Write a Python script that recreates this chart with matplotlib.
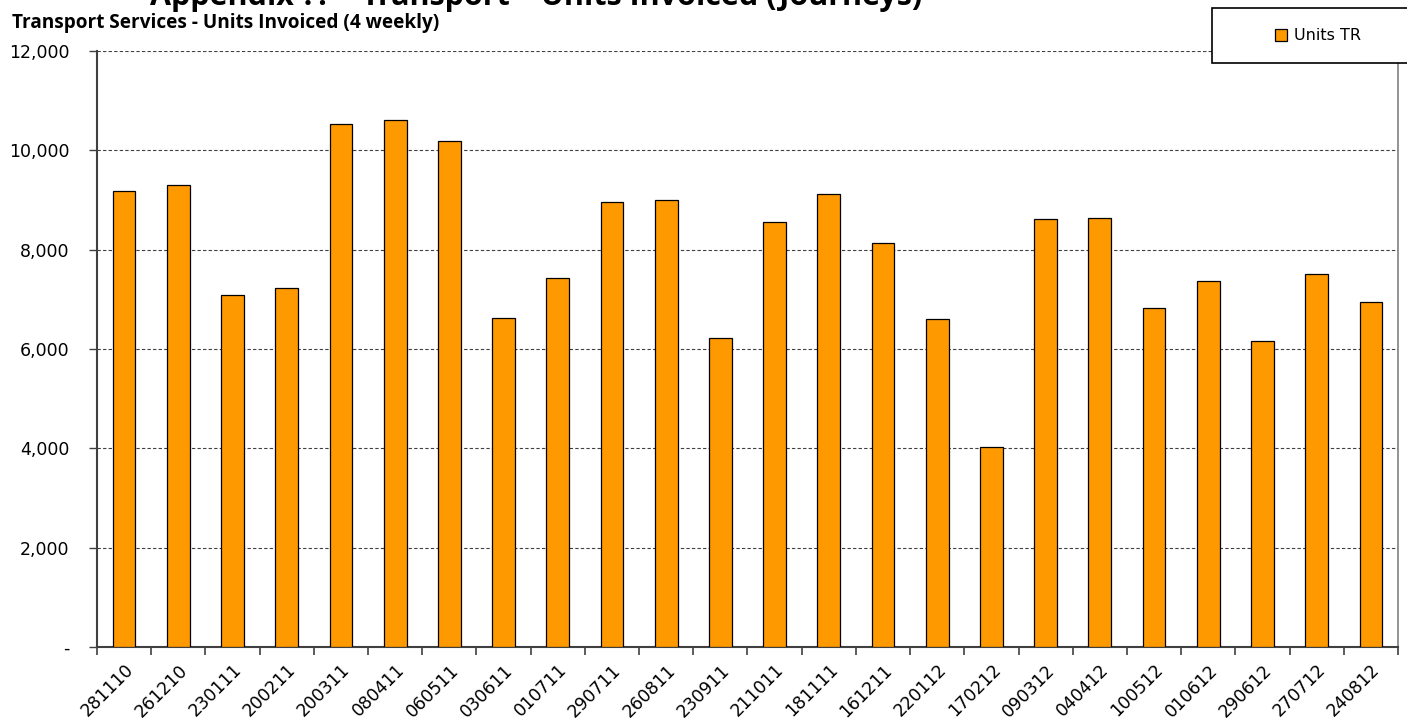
import matplotlib
matplotlib.use('Agg')
import matplotlib.pyplot as plt
import matplotlib.patches as mpatches
from matplotlib.ticker import FuncFormatter, MultipleLocator, FixedLocator
import numpy as np

# 4-weekly periods (ddmmyy) and units invoiced
periods = ['281110', '261210', '230111', '200211', '200311', '080411', '060511', '030611',
           '010711', '290711', '260811', '230911', '211011', '181111', '161211', '220112',
           '170212', '090312', '040412', '100512', '010612', '290612', '270712', '240812']
units_tr = [9190, 9300, 7090, 7230, 10530, 10620, 10180, 6630,
            7420, 8960, 9010, 6230, 8560, 9120, 8140, 6610,
            4020, 8610, 8630, 6830, 7370, 6170, 7510, 6950]

bar_colour = '#FF9900'
tick_font = 'DejaVu Sans'

fig = plt.figure(figsize=(14.07, 7.18), dpi=100)
ax = fig.add_axes([97 / 1407, 1 - 647 / 718, 1301 / 1407, 596 / 718])

x = np.arange(len(periods))
bars = ax.bar(x, units_tr, width=0.42, color=bar_colour, edgecolor='black',
              linewidth=0.9, label='Units TR', zorder=3)

ax.set_xlim(-0.5, len(periods) - 0.5)
ax.set_ylim(0, 12000)
ax.yaxis.set_major_locator(MultipleLocator(2000))
ax.yaxis.set_major_formatter(FuncFormatter(lambda v, p: '-' if v == 0 else f'{v:,.0f}'))
ax.grid(axis='y', linestyle=(0, (3, 2)), color='#404040', linewidth=0.8, zorder=0)

# category labels at bar centres, tick marks on category boundaries
ax.set_xticks(x)
ax.set_xticklabels(periods, rotation=45, ha='right', rotation_mode='anchor',
                   fontsize=12.5, family=tick_font)
ax.tick_params(axis='x', which='major', length=0, pad=10)
ax.xaxis.set_minor_locator(FixedLocator(np.arange(-0.5, len(periods), 1.0)))
ax.tick_params(axis='x', which='minor', length=6, width=1.2, color='#404040', direction='out')
ax.tick_params(axis='y', length=6, width=1, color='#404040', direction='out',
               labelsize=12.5, pad=14)
for lab in ax.get_yticklabels():
    lab.set_family(tick_font)

for side in ['left', 'bottom']:
    ax.spines[side].set_color('#404040')
    ax.spines[side].set_linewidth(1.5)
ax.spines['right'].set_color('#808080')
ax.spines['right'].set_linewidth(1.2)
ax.spines['top'].set_visible(False)

# titles (main heading runs off the top of the page)
fig.text(150 / 1407, 1 - 5 / 718, 'Appendix ?? \u2013 Transport \u2013 Units Invoiced (Journeys)',
         fontsize=22, fontweight='bold', family='Open Sans', va='baseline', ha='left')
fig.text(12 / 1407, 1 - 28 / 718, 'Transport Services - Units Invoiced (4 weekly)',
         fontsize=13.7, fontweight='bold', family='Open Sans', va='baseline', ha='left')

# legend box
box = mpatches.Rectangle((1212 / 1407, 1 - 63 / 718), 0.2, 55 / 718, transform=fig.transFigure,
                         facecolor='white', edgecolor='black', linewidth=1.2, zorder=5,
                         clip_on=False)
fig.add_artist(box)
leg = fig.legend(handles=[bars], labels=['Units TR'], loc='center',
                 bbox_to_anchor=(1318 / 1407, 1 - 36 / 718), frameon=False,
                 prop={'family': tick_font, 'size': 11.5}, handlelength=0.75, handleheight=0.75,
                 handletextpad=0.4)
leg.set_zorder(6)

fig.savefig('out.png', dpi=100)
